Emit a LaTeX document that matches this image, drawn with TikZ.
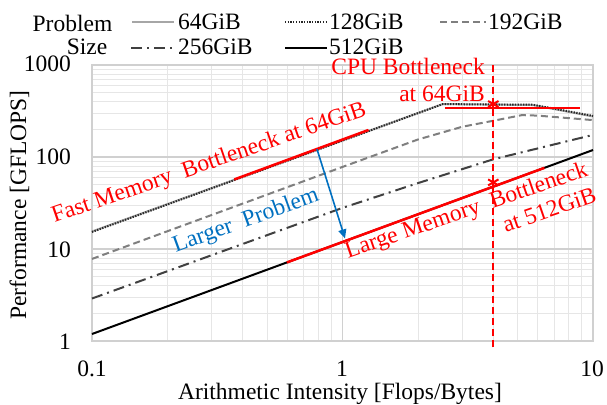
\documentclass[tikz,border=0pt]{standalone}
\usepackage{fontspec}
\setmainfont{Liberation Serif}
\usepackage{xcolor}
\usetikzlibrary{arrows.meta}
\definecolor{hot}{HTML}{FF0000}
\definecolor{cool}{HTML}{0070C0}
\definecolor{gridmajor}{HTML}{D0D0D0}
\definecolor{gridminor}{HTML}{E6E6E6}
\definecolor{light}{HTML}{A6A6A6}
\definecolor{mid}{HTML}{7F7F7F}
\definecolor{darkish}{HTML}{404040}
\definecolor{ink}{HTML}{262626}
\newcommand\plotfont{\fontsize{23.5}{27}\selectfont}

\begin{document}
\begin{tikzpicture}[x=1pt, y=1pt,
  lbl/.style={font=\plotfont, inner sep=0pt},
  note/.style={font=\plotfont, inner sep=0pt, text=hot},
  majorgrid/.style={draw=gridmajor, line width=1.2pt},
  minorgrid/.style={draw=gridminor, line width=0.8pt},
  gib64/.style={draw=light, line width=2pt},
  gib128/.style={draw=ink, line width=2pt, dash pattern=on 1.3pt off 1.4pt},
  gib192/.style={draw=mid, line width=2pt, dash pattern=on 7pt off 4pt},
  gib256/.style={draw=darkish, line width=2pt, dash pattern=on 11pt off 5pt on 2pt off 5pt},
  gib512/.style={draw=black, line width=2pt},
  redline/.style={draw=hot, line width=2.5pt},
  arr/.style={-{Triangle[length=9pt,width=8pt]}, line width=1.6pt, draw=cool, fill=cool}]
\useasboundingbox (0,0) rectangle (607,404);

% plot area, log-log: one unit = one decade
\begin{scope}[shift={(92,63)}, x=250.5pt, y=92pt]
  \foreach \d in {0,1} \foreach \k in {2,...,9}
    \draw[minorgrid] ({\d+log10(\k)},0) -- ({\d+log10(\k)},3);
  \foreach \d in {0,1,2} \foreach \k in {2,...,9}
    \draw[minorgrid] (0,{\d+log10(\k)}) -- (2,{\d+log10(\k)});
  \draw[majorgrid] (1,0) -- (1,3);
  \foreach \d in {1,2} \draw[majorgrid] (0,\d) -- (2,\d);
  \draw[majorgrid] (0,0) rectangle (2,3);

  % measured curves
  \draw[gib512] (0,0.076) -- (2,2.076);
  \draw[gib256] (0,0.462) -- (1,1.447) -- (1.301,1.716) -- (1.602,1.975) -- (2,2.24);
  \draw[gib192] (0,0.892) -- (1,1.892) -- (1.301,2.190) -- (1.477,2.328) -- (1.602,2.394)
    -- (1.716,2.455) -- (1.778,2.450) -- (2,2.401);
  \draw[gib64] (0,1.19) -- (1.40,2.575) -- (1.76,2.565) -- (2,2.44);
  \draw[gib128] (0,1.185) -- (1.40,2.575) -- (1.76,2.568) -- (2,2.447);

  % bottlenecks
  \draw[redline] (0.568,1.756) -- (1.104,2.294);
  \draw[redline] (0.778,0.854) -- (1.806,1.882);
  \draw[redline] (1.409,2.533) -- (1.948,2.533);
  \draw[hot, line width=2pt, dash pattern=on 7pt off 4pt] (1.602,-0.07) -- (1.602,3.01);
  \coordinate (cpustar) at (1.602,2.576);
  \coordinate (memstar) at (1.602,1.724);
  \coordinate (fasttop) at (0.898,2.087);
  \coordinate (largebot) at (1.01,1.115);
\end{scope}

\foreach \a in {90,30,150} {
  \draw[hot, line width=2pt] ([shift={(\a:6pt)}]cpustar) -- ([shift={(\a+180:6pt)}]cpustar);
  \draw[hot, line width=2pt] ([shift={(\a:6pt)}]memstar) -- ([shift={(\a+180:6pt)}]memstar);
}
\draw[arr] (fasttop) -- (largebot);

% axes
\node[lbl, anchor=east] (y1000) at (71,340) {1000};
\node[lbl, anchor=east] (y100) at (71,247) {100};
\node[lbl, anchor=east] (y10) at (71,154) {10};
\node[lbl, anchor=east] (y1) at (71,62) {1};
\node[lbl] (x01) at (92,35) {0.1};
\node[lbl] (x1) at (342,35) {1};
\node[lbl] (x10) at (592,35) {10};
\node[lbl, anchor=base] (xtitle) at (340,5) {Arithmetic Intensity [Flops/Bytes]};
\node[lbl, anchor=base, rotate=90] (ytitle) at (26,199) {Performance [GFLOPS]};

% legend
\node[lbl, anchor=base] (problem) at (72.5,372) {Problem};
\node[lbl, anchor=base] (size) at (87,349) {Size};
\draw[gib64] (132,382) -- (174,382);
\draw[gib128] (285,382) -- (327,382);
\draw[gib192] (440,382) -- (486,382);
\draw[gib256] (131,356) -- (176,356);
\draw[gib512] (285,356) -- (327,356);
\node[lbl, anchor=base west] (l64) at (178,374) {64GiB};
\node[lbl, anchor=base west] (l128) at (329,374) {128GiB};
\node[lbl, anchor=base west] (l192) at (488,374) {192GiB};
\node[lbl, anchor=base west] (l256) at (178,349) {256GiB};
\node[lbl, anchor=base west] (l512) at (329,349) {512GiB};

% notes
\node[note, align=right, anchor=base east] (cpu) at (485,302) {CPU Bottleneck\\at 64GiB};
\node[note, anchor=base, rotate=19] (fast) at (211,235) {Fast Memory~ Bottleneck at 64GiB};
\node[note, align=right, anchor=base east, rotate=19] (large) at (598,203)
  {Large Memory~ Bottleneck\\at 512GiB};
\node[lbl, text=cool, anchor=base, rotate=20] (larger) at (248,177.5) {Larger~ Problem};
\end{tikzpicture}
\end{document}
